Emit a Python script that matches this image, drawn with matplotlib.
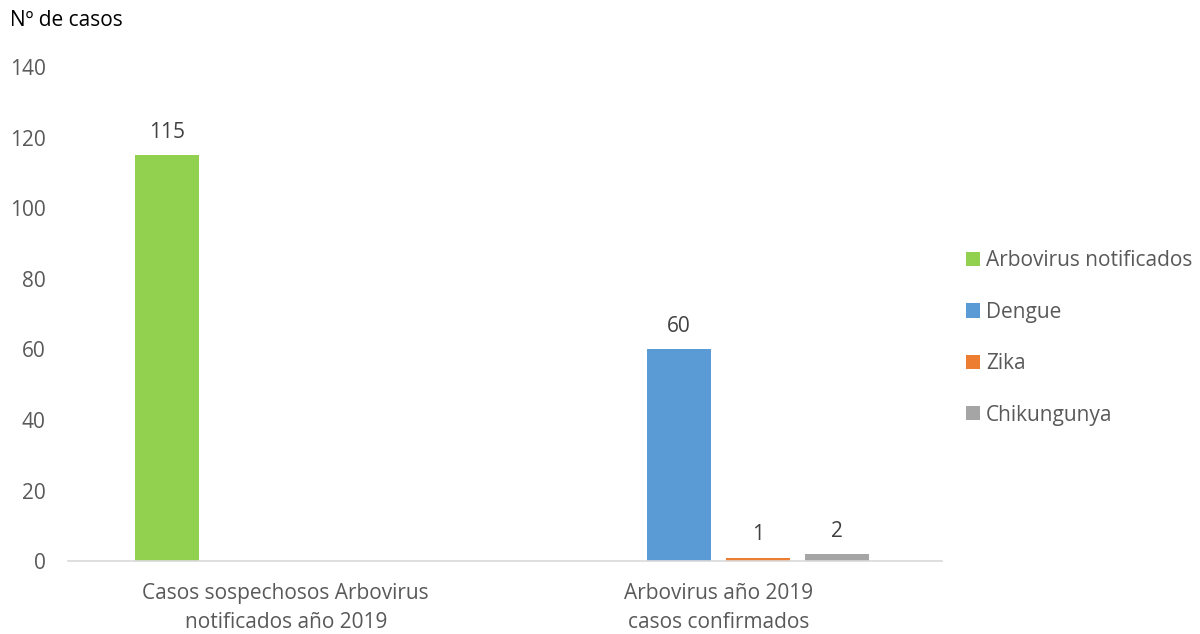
import numpy as np
import matplotlib.pyplot as plt

plt.rcParams['font.family'] = ['Open Sans', 'DejaVu Sans']

categorias = ["Casos sospechosos Arbovirus\nnotificados año 2019",
              "Arbovirus año 2019\ncasos confirmados"]
series = ["Arbovirus notificados", "Dengue", "Zika", "Chikungunya"]
valores = [
    [115, np.nan],
    [np.nan, 60],
    [np.nan, 1],
    [np.nan, 2],
]
colores = ["#92D050", "#5B9BD5", "#ED7D31", "#A5A5A5"]

gris = "#595959"
fs = 15
fig = plt.figure(figsize=(12, 6.34), dpi=100)
ax = fig.add_axes([0.057, 0.115, 0.728, 0.779])

x = np.arange(len(categorias))
ancho = 0.148
paso = 0.1825
for i, (nombre, vals, c) in enumerate(zip(series, valores, colores)):
    pos = x + (i - 1.5) * paso
    barras = ax.bar(pos, vals, ancho, color=c, label=nombre, zorder=2)
    for b, v in zip(barras, vals):
        if not np.isnan(v):
            ax.text(b.get_x() + b.get_width() / 2, v + 3.5, f"{v:g}",
                    ha='center', va='bottom', fontsize=fs, color="#404040")

ax.set_xlim(-0.502, 1.516)
ax.set_ylim(0, 140)
ax.set_yticks(range(0, 141, 20))
ax.set_xticks(x)
ax.set_xticklabels(categorias, fontsize=fs, color=gris, linespacing=1.55)
ax.tick_params(axis='y', labelsize=fs, labelcolor=gris, length=0, pad=16.5)
ax.tick_params(axis='x', length=0, pad=15.5)
for s in ['top', 'right', 'left']:
    ax.spines[s].set_visible(False)
ax.spines['bottom'].set_color("#D9D9D9")
ax.spines['bottom'].set_linewidth(1.2)

fig.text(0.008, 0.985, "Nº de casos", fontsize=fs, color="black", va='top')

fig.legend(loc='center left', bbox_to_anchor=(0.789, 0.467), frameon=False,
           fontsize=fs, labelcolor=gris, handlelength=0.68, handleheight=0.68,
           handletextpad=0.3, labelspacing=1.46)

fig.savefig("out.png", dpi=100)
